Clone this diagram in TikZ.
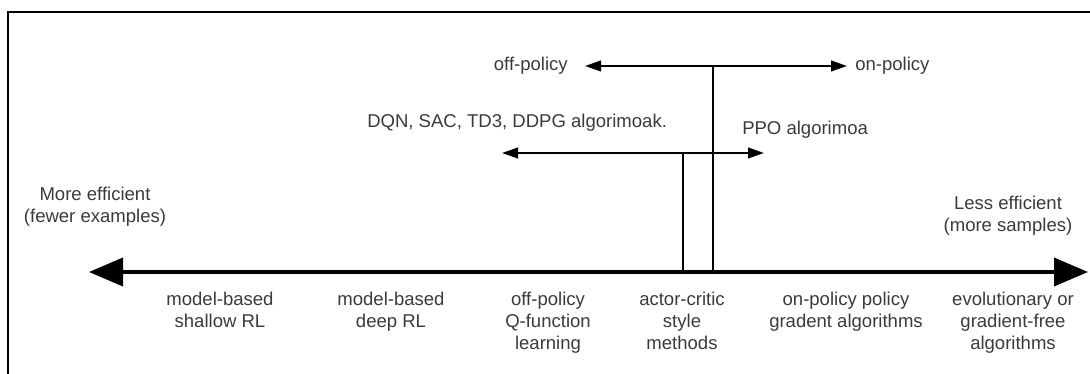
\documentclass[tikz,border=0pt]{standalone}
\usepackage{fontspec}
\setmainfont{Liberation Sans}
\usetikzlibrary{arrows.meta}
\definecolor{labelgray}{HTML}{3A3A3A}
\begin{document}
\begin{tikzpicture}[x=0.75pt,y=-0.75pt,
  lbl/.style={font=\fontsize{13.9}{16.5}\selectfont, text=labelgray, inner sep=0pt},
  cat/.style={lbl, align=center, anchor=north},
  axis/.style={line width=3pt, {Triangle[length=25.5pt,width=21pt]}-{Triangle[length=25.5pt,width=21pt]}},
  span/.style={line width=1.5pt, {Triangle[length=12pt,width=8pt]}-{Triangle[length=12pt,width=8pt]}},
  link/.style={line width=1.5pt}]
\useasboundingbox (0,0) rectangle (1090,374);

% frame
\draw[line width=1.6pt] (8,380) -- (8,12) -- (1095,12);

% main efficiency axis
\coordinate (axL) at (89,272);
\coordinate (axR) at (1088,272);
\draw[axis] (axL) -- (axR);

% off-policy / on-policy split
\coordinate (offP) at (585,66);
\coordinate (onP) at (847,66);
\coordinate (jTop) at (713,66);
\coordinate (jTopB) at (713,272);
\draw[span] (offP) -- (onP);
\draw[link] (jTop) -- (jTopB);

% algorithm range
\coordinate (algL) at (502,153);
\coordinate (algR) at (764,153);
\coordinate (jAlg) at (683,153);
\coordinate (jAlgB) at (683,272);
\draw[span] (algL) -- (algR);
\draw[link] (jAlg) -- (jAlgB);

% labels
\node[lbl, anchor=base east] (off) at (568,71) {off-policy};
\node[lbl, anchor=base west] (on) at (855,71) {on-policy};
\node[lbl, anchor=base west] (dqn) at (367,128) {DQN, SAC, TD3, DDPG algorimoak.};
\node[lbl, anchor=base west] (ppo) at (742,135) {PPO algorimoa};
\node[cat] (more) at (95,187) {More efficient\\(fewer examples)};
\node[cat] (less) at (1008,196) {Less efficient\\(more samples)};

% categories along the axis
\node[cat] (c1) at (220,291.5) {model-based\\shallow RL};
\node[cat] (c2) at (391,291.5) {model-based\\deep RL};
\node[cat] (c3) at (548,291.5) {off-policy\\Q-function\\learning};
\node[cat] (c4) at (682,291.5) {actor-critic\\style\\methods};
\node[cat] (c5) at (846,291.5) {on-policy policy\\gradent algorithms};
\node[cat] (c6) at (1013,291.5) {evolutionary or\\gradient-free\\algorithms};
\end{tikzpicture}
\end{document}
